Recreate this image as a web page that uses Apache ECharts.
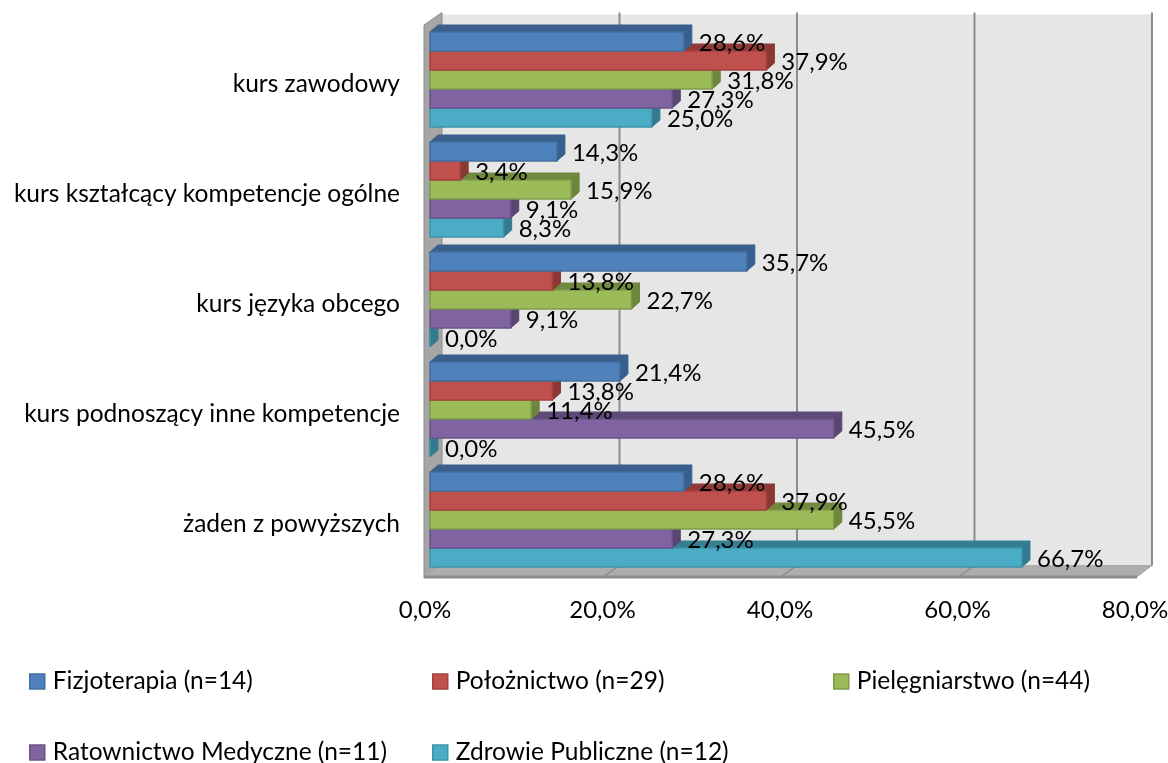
<!DOCTYPE html>
<html>
<head>
<meta charset="utf-8">
<title>Kursy</title>
<style>
  html, body { margin: 0; padding: 0; background: #fff; }
  #chart { width: 1168px; height: 763px; }
</style>
<script src="https://cdn.jsdelivr.net/npm/echarts@6/dist/echarts.min.js"></script>
</head>
<body>
<div id="chart"></div>
<script>
// dane
const categories = ['kurs zawodowy', 'kurs kształcący kompetencje ogólne', 'kurs języka obcego', 'kurs podnoszący inne kompetencje', 'żaden z powyższych'];
const seriesNames = ['Fizjoterapia (n=14)', 'Położnictwo (n=29)', 'Pielęgniarstwo (n=44)', 'Ratownictwo Medyczne (n=11)', 'Zdrowie Publiczne (n=12)'];
const fizjoterapia = [28.6, 14.3, 35.7, 21.4, 28.6];
const poloznictwo = [37.9, 3.4, 13.8, 13.8, 37.9];
const pielegniarstwo = [31.8, 15.9, 22.7, 11.4, 45.5];
const ratownictwo = [27.3, 9.1, 9.1, 45.5, 27.3];
const zdrowie = [25.0, 8.3, 0.0, 0.0, 66.7];
const xTicks = [0, 20, 40, 60, 80];

const allValues = [fizjoterapia, poloznictwo, pielegniarstwo, ratownictwo, zdrowie];
const frontColors = ['#4F81BD', '#C0504D', '#9BBB59', '#8064A2', '#4BACC6'];
const edgeColors = ['#41709f', '#a5423f', '#7f9a48', '#6a5387', '#3d93aa'];
const topColors = ['#3A5F8B', '#8E3B38', '#71893F', '#5E4A78', '#367E92'];
const sideColors = ['#36608f', '#8a3835', '#6d853c', '#5a4673', '#327a8e'];

const font = 'Lato';
const fontSize = 24.5;
const numberSize = 24;
const legendLeft = [29, 432, 833, 29, 432];
const legendTop = [669, 669, 669, 740, 740];
// etykiety kategorii leza nizej niz srodek grupy slupkow
const bandShift = 4.5;

const chart = echarts.init(document.getElementById('chart'));

// sciany i podloga wykresu 3D
function renderWalls(params, api) {
  const cs = params.coordSys;
  const left = cs.x, right = cs.x + cs.width;
  const top = cs.y - bandShift + 0.5, bottom = cs.y - bandShift + cs.height + 3.5;
  const dx = 15, dy = 12.5;
  const children = [
    { type: 'polygon', shape: { points: [[left + dx, top - dy + 2], [right + dx, top - dy + 2], [right + dx, bottom - dy], [left + dx, bottom - dy]] }, style: { fill: '#E6E6E6' } },
    { type: 'polygon', shape: { points: [[left - 3, top], [left + dx, top - dy], [left + dx, bottom - dy], [left - 3, bottom]] }, style: { fill: '#A6A6A6', stroke: '#8c8c8c', lineWidth: 1 } },
    { type: 'polygon', shape: { points: [[left - 3, bottom - 1], [left + dx, bottom - dy], [right + dx, bottom - dy], [right, bottom - 1]] }, style: { fill: '#ADADAD', stroke: '#ADADAD', lineWidth: 1 } },
    { type: 'line', shape: { x1: left - 3, y1: bottom - 1, x2: right, y2: bottom - 1 }, style: { stroke: '#8c8c8c', lineWidth: 3 } }
  ];
  xTicks.slice(1).forEach(function (t) {
    const x = api.coord([t, 0])[0];
    children.push({ type: 'line', shape: { x1: x + dx, y1: top - dy, x2: x + dx, y2: bottom - dy }, style: { stroke: '#8c8c8c', lineWidth: 2 } });
    if (t < 80) {
      children.push({ type: 'line', shape: { x1: x + dx, y1: bottom - dy, x2: x, y2: bottom - 2 }, style: { stroke: '#8c8c8c', lineWidth: 1.5 } });
    }
  });
  return { type: 'group', children: children };
}

function barGeometry(api, s) {
  const p = api.coord([api.value(0), api.value(1)]);
  const band = api.size([0, 1])[1];
  const h = band * 95 / 110 / 5;
  const y0 = p[1] - bandShift - band * 47.5 / 110 + s * h;
  return { x0: api.coord([0, api.value(1)])[0] + 3, x1: p[0] + 3, y0: y0, y1: y0 + h, h: h };
}

function makeBars(s) {
  return function (params, api) {
    const g = barGeometry(api, s);
    const dx = 8, dy = 7;
    return {
      type: 'group',
      children: [
        { type: 'polygon', shape: { points: [[g.x0, g.y0], [g.x0 + dx, g.y0 - dy], [g.x1 + dx, g.y0 - dy], [g.x1, g.y0]] }, style: { fill: topColors[s], stroke: topColors[s], lineWidth: 1 } },
        { type: 'polygon', shape: { points: [[g.x1, g.y0], [g.x1 + dx, g.y0 - dy], [g.x1 + dx, g.y1 - dy], [g.x1, g.y1]] }, style: { fill: sideColors[s], stroke: sideColors[s], lineWidth: 1 } },
        { type: 'rect', shape: { x: g.x0, y: g.y0, width: g.x1 - g.x0, height: g.h }, style: { fill: frontColors[s], stroke: edgeColors[s], lineWidth: 1.5 } }
      ]
    };
  };
}

function makeLabels(s) {
  return function (params, api) {
    const g = barGeometry(api, s);
    return {
      type: 'text',
      style: {
        x: g.x1 + 15,
        y: (g.y0 + g.y1) / 2 + 2,
        text: api.value(0).toFixed(1).replace('.', ',') + '%',
        fill: '#000',
        fontFamily: font,
        fontSize: numberSize,
        verticalAlign: 'middle'
      }
    };
  };
}

const series = [{
  type: 'custom',
  silent: true,
  z: 1,
  clip: false,
  renderItem: renderWalls,
  data: [[0, 0]]
}];

allValues.forEach(function (vals, s) {
  const data = vals.map(function (v, i) { return [v, i]; });
  series.push({
    type: 'custom',
    name: seriesNames[s],
    z: 10 - s,
    clip: false,
    itemStyle: { color: frontColors[s] },
    encode: { x: 0, y: 1 },
    renderItem: makeBars(s),
    data: data
  });
  series.push({
    type: 'custom',
    silent: true,
    z: 20,
    clip: false,
    encode: { x: 0, y: 1 },
    renderItem: makeLabels(s),
    data: data
  });
});

chart.setOption({
  animation: false,
  textStyle: { fontFamily: font },
  grid: { left: 427, top: 24.5 + bandShift, width: 710, height: 550, containLabel: false, outerBoundsMode: 'none' },
  xAxis: {
    type: 'value',
    min: 0,
    max: 80,
    interval: 20,
    splitLine: { show: false },
    axisLine: { show: false },
    axisTick: { show: false },
    axisLabel: {
      margin: 24 - bandShift,
      padding: [0, 4, 0, 0],
      color: '#000',
      fontFamily: font,
      fontSize: numberSize,
      formatter: function (v) { return v.toFixed(1).replace('.', ',') + '%'; }
    }
  },
  yAxis: {
    type: 'category',
    inverse: true,
    data: categories,
    axisLine: { show: false },
    axisTick: { show: false },
    axisLabel: {
      margin: 27,
      color: '#000',
      fontFamily: font,
      fontSize: fontSize
    }
  },
  legend: seriesNames.map(function (name, s) {
    return {
      left: legendLeft[s],
      top: legendTop[s],
      data: [{ name: name, icon: 'rect', itemStyle: { color: frontColors[s], borderColor: edgeColors[s], borderWidth: 1.5 } }],
      itemWidth: 15,
      itemHeight: 15,
      itemGap: 0,
      selectedMode: false,
      padding: 0,
      textStyle: { color: '#000', fontFamily: font, fontSize: fontSize, padding: [0, 0, 0, 3] }
    };
  }),
  series: series
});
</script>
</body>
</html>
